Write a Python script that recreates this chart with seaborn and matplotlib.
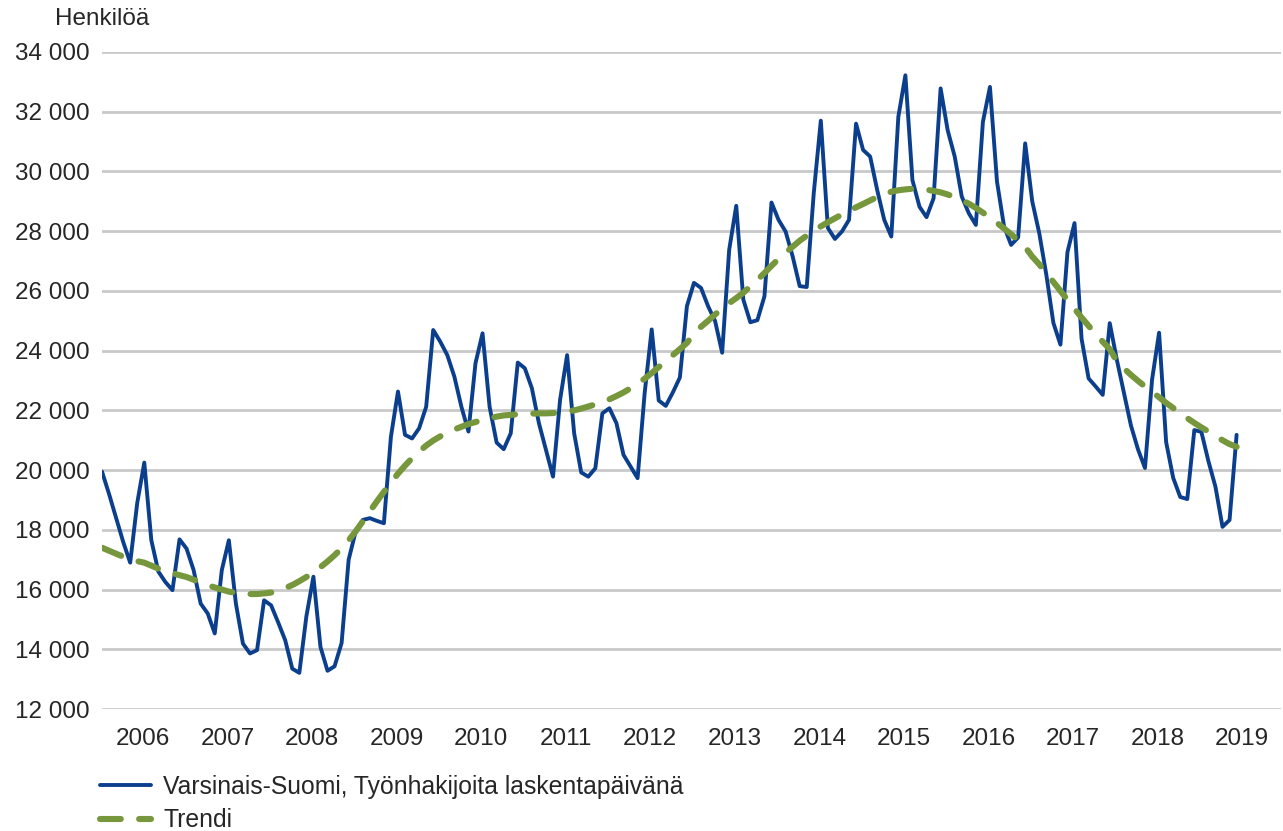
import matplotlib
matplotlib.use("Agg")
import matplotlib.pyplot as plt
import numpy as np
import pandas as pd
import seaborn as sns

# Kuukausittaiset arvot tammikuu 2006 - kesäkuu 2019
years = list(range(2006, 2020))

tyonhakijat = [
    19950, 19200, 18400, 17600, 16900, 18900, 20250, 17650, 16600, 16250, 15980, 17680,  # 2006
    17370, 16650, 15530, 15200, 14530, 16650, 17650, 15530, 14190, 13860, 13970, 15640,  # 2007
    15470, 14900, 14300, 13350, 13210, 15100, 16430, 14080, 13280, 13430, 14210, 17000,  # 2008
    17950, 18330, 18390, 18300, 18220, 21120, 22630, 21180, 21060, 21400, 22120, 24690,  # 2009
    24300, 23850, 23130, 22120, 21290, 23580, 24580, 22120, 20920, 20700, 21230, 23600,  # 2010
    23410, 22740, 21570, 20670, 19780, 22350, 23850, 21230, 19920, 19780, 20060, 21900,  # 2011
    22070, 21570, 20510, 20120, 19730, 22570, 24710, 22330, 22150, 22600, 23100, 25490,  # 2012
    26270, 26100, 25490, 24990, 23930, 27380, 28850, 25710, 24950, 25020, 25820, 28960,  # 2013
    28380, 27990, 27160, 26160, 26130, 29280, 31700, 28110, 27740, 27990, 28380, 31600,  # 2014
    30720, 30500, 29380, 28380, 27820, 31830, 33220, 29710, 28820, 28470, 29100, 32780,  # 2015
    31380, 30500, 29160, 28600, 28210, 31660, 32830, 29660, 28160, 27540, 27790, 30940,  # 2016
    29000, 27930, 26540, 24930, 24200, 27300, 28270, 24400, 23070, 22800, 22520, 24920,  # 2017
    23700, 22600, 21500, 20700, 20070, 23020, 24600, 20940, 19740, 19100, 19030, 21340,  # 2018
    21280, 20300, 19440, 18100, 18330, 21180,  # 2019
]

trendi = [
    17400, 17300, 17200, 17100, 17000, 16950, 16900, 16800, 16700, 16600, 16550, 16480,  # 2006
    16420, 16330, 16230, 16150, 16070, 16000, 15930, 15890, 15860, 15850, 15850, 15870,  # 2007
    15900, 15960, 16050, 16150, 16280, 16420, 16580, 16750, 16940, 17150, 17380, 17650,  # 2008
    17950, 18280, 18620, 18950, 19270, 19580, 19880, 20150, 20400, 20620, 20820, 20990,  # 2009
    21130, 21250, 21360, 21450, 21540, 21610, 21680, 21740, 21790, 21830, 21850, 21870,  # 2010
    21880, 21890, 21900, 21900, 21910, 21930, 21960, 22000, 22060, 22130, 22200, 22280,  # 2011
    22370, 22480, 22600, 22740, 22900, 23060, 23250, 23450, 23650, 23850, 24050, 24260,  # 2012
    24560, 24800, 25000, 25210, 25410, 25590, 25760, 25940, 26150, 26370, 26600, 26840,  # 2013
    27070, 27280, 27480, 27680, 27850, 28010, 28160, 28300, 28430, 28560, 28680, 28800,  # 2014
    28910, 29030, 29140, 29240, 29320, 29370, 29400, 29420, 29410, 29390, 29350, 29300,  # 2015
    29230, 29140, 29040, 28920, 28780, 28620, 28460, 28280, 28090, 27900, 27690, 27470,  # 2016
    27150, 26890, 26590, 26300, 26000, 25700, 25400, 25110, 24830, 24560, 24300, 24050,  # 2017
    23650, 23410, 23190, 22990, 22800, 22620, 22440, 22250, 22080, 21910, 21740, 21580,  # 2018
    21430, 21290, 21140, 21000, 20870, 20780,  # 2019
]

y_ticks = list(range(12000, 34001, 2000))

df = pd.DataFrame({
    "kk": np.arange(len(tyonhakijat)),
    "tyonhakijat": tyonhakijat,
    "trendi": trendi,
})

sns.set_theme(style="white")
plt.rcParams["font.family"] = ["Liberation Sans", "DejaVu Sans"]
plt.rcParams["font.size"] = 17.5

fig = plt.figure(figsize=(12.83, 8.31), dpi=100)
ax = fig.add_axes([102 / 1283, 1 - 709 / 831, (1281 - 102) / 1283, (709 - 52) / 831])

sns.lineplot(data=df, x="kk", y="tyonhakijat", ax=ax, color="#0b3f8e", linewidth=2.8,
             label="Varsinais-Suomi, Työnhakijoita laskentapäivänä")
sns.lineplot(data=df, x="kk", y="trendi", ax=ax, color="#77973d", linewidth=4.4,
             dashes=False, label="Trendi")
trend_line = ax.get_lines()[1]
trend_line.set_dashes((3.4, 3.0))
trend_line.set_dash_capstyle("round")

ax.set_xlim(0, 167.3)
ax.set_ylim(12000, 34000)
ax.set_xticks([12 * i + 5.8 for i in range(len(years))])
ax.set_xticklabels([str(y) for y in years])
ax.set_yticks(y_ticks)
ax.set_yticklabels([f"{v:,}".replace(",", " ") for v in y_ticks])
ax.tick_params(axis="both", length=0, labelsize=17.5, colors="#262626")
ax.tick_params(axis="y", pad=9)
ax.tick_params(axis="x", pad=14)
ax.set_xlabel("")
ax.set_ylabel("")
ax.grid(axis="y", color="#c9c9c9", linewidth=2)
ax.grid(axis="x", visible=False)
ax.set_axisbelow(True)
for s in ax.spines.values():
    s.set_visible(False)

fig.text(55 / 1283, 1 - 19 / 831, "Henkilöä", fontsize=17.5, color="#262626", va="center", ha="left")

leg = ax.legend(loc="upper left", bbox_to_anchor=(100 / 1283, 1 - 775 / 831),
                bbox_transform=fig.transFigure, frameon=False, fontsize=17.8,
                handlelength=2.05, handletextpad=0.5, labelspacing=0.38,
                borderpad=0, borderaxespad=0, labelcolor="#262626")

fig.savefig("out.png", dpi=100)
